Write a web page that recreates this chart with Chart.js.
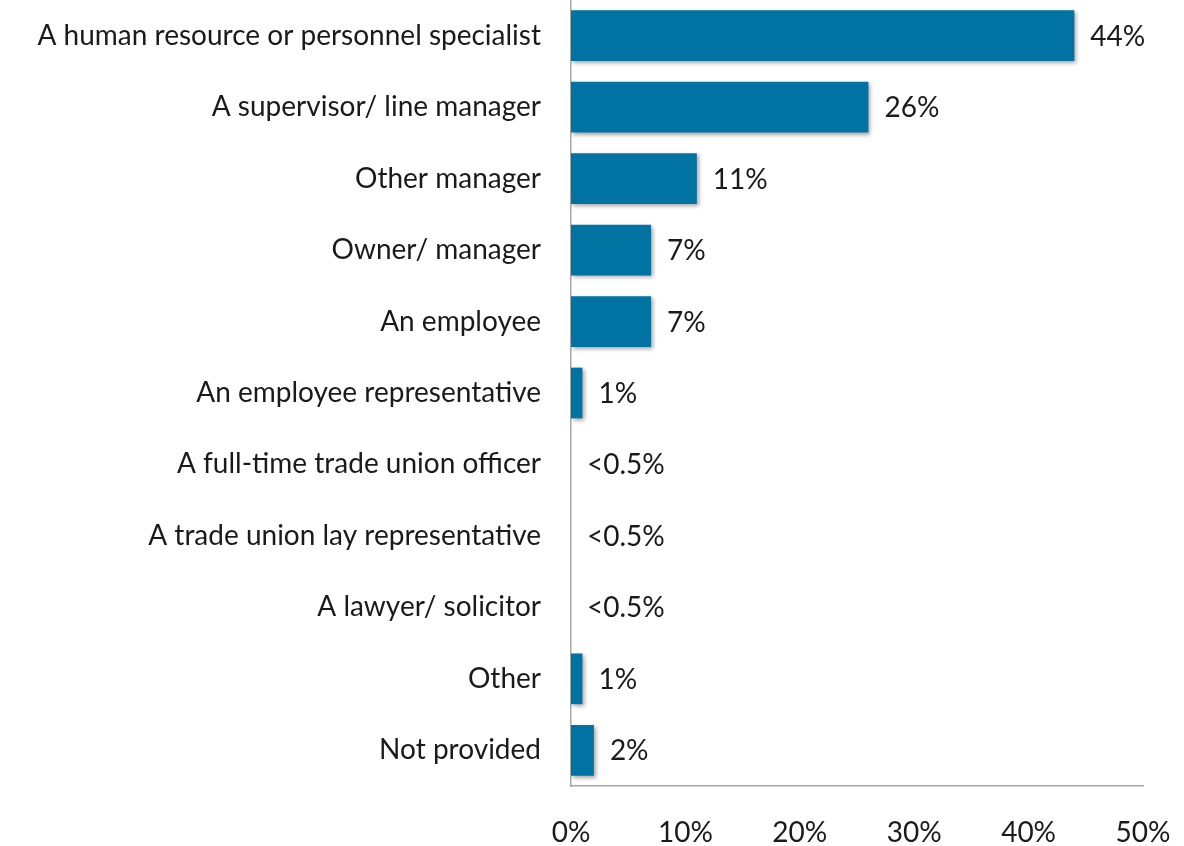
<!DOCTYPE html>
<html>
<head>
<meta charset="utf-8">
<style>
  html, body { margin: 0; padding: 0; background: #fff; }
  #wrap { width: 1184px; height: 846px; }
</style>
<script src="https://cdn.jsdelivr.net/npm/chart.js@4/dist/chart.umd.min.js"></script>
</head>
<body>
<div id="wrap"><canvas id="myChart" width="1184" height="846"></canvas></div>
<script>
const categories = [
  "A human resource or personnel specialist",
  "A supervisor/ line manager",
  "Other manager",
  "Owner/ manager",
  "An employee",
  "An employee representative",
  "A full-time trade union officer",
  "A trade union lay representative",
  "A lawyer/ solicitor",
  "Other",
  "Not provided"
];
const values = [44, 26, 11, 7, 7, 1, 0, 0, 0, 1, 2];
const valueLabels = ["44%", "26%", "11%", "7%", "7%", "1%", "<0.5%", "<0.5%", "<0.5%", "1%", "2%"];
const tickLabels = ["0%", "10%", "20%", "30%", "40%", "50%"];

const FONT = "Lato, sans-serif";
const TEXT = "#1a1a1a";
const AXIS = "#a6a6a6";

// soft shadow under the bars
const barShadow = {
  id: "barShadow",
  beforeDatasetsDraw(chart) {
    const ctx = chart.ctx;
    ctx.save();
    ctx.shadowColor = "rgba(0,0,0,0.35)";
    ctx.shadowBlur = 4;
    ctx.shadowOffsetX = 2;
    ctx.shadowOffsetY = 2;
  },
  afterDatasetsDraw(chart) {
    chart.ctx.restore();
  }
};

// value labels right of the bars
const barLabels = {
  id: "barLabels",
  afterDraw(chart) {
    const ctx = chart.ctx;
    const meta = chart.getDatasetMeta(0);
    ctx.save();
    ctx.font = "28px " + FONT;
    ctx.fillStyle = TEXT;
    ctx.textAlign = "left";
    ctx.textBaseline = "middle";
    meta.data.forEach((bar, i) => {
      ctx.fillText(valueLabels[i], bar.x + 16, bar.y + 1);
    });
    ctx.restore();
  }
};

new Chart(document.getElementById("myChart").getContext("2d"), {
  type: "bar",
  data: {
    labels: categories,
    datasets: [{
      data: values,
      backgroundColor: "#0073a2",
      borderWidth: 0,
      barPercentage: 0.71,
      categoryPercentage: 1.0
    }]
  },
  options: {
    indexAxis: "y",
    responsive: false,
    animation: false,
    layout: { padding: { top: 0, right: 41, bottom: 0, left: 0 } },
    plugins: {
      legend: { display: false },
      tooltip: { enabled: false }
    },
    scales: {
      x: {
        min: 0,
        max: 50,
        grid: { display: false, drawTicks: false },
        border: { display: true, color: AXIS, width: 1.5 },
        ticks: {
          stepSize: 10,
          padding: 30,
          color: TEXT,
          font: { family: FONT, size: 28 },
          callback: (v, i) => tickLabels[i]
        },
        afterFit(scale) {
          scale.height = 60;
          scale.paddingLeft = 0;
          scale.paddingRight = 0;
        }
      },
      y: {
        grid: { display: false, drawTicks: false },
        border: { display: true, color: AXIS, width: 1.5 },
        ticks: {
          padding: 30,
          color: TEXT,
          font: { family: FONT, size: 28 }
        },
        afterFit(scale) {
          scale.width = 571;
          scale.paddingTop = 0;
          scale.paddingBottom = 0;
        }
      }
    }
  },
  plugins: [barShadow, barLabels]
});
</script>
</body>
</html>
